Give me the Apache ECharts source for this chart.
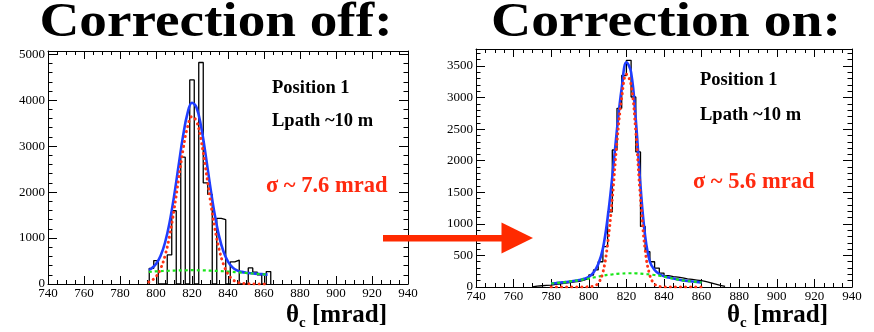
<!DOCTYPE html>
<html><head><meta charset="utf-8">
<script src="https://cdn.jsdelivr.net/npm/echarts@6/dist/echarts.min.js"></script>
<style>html,body{margin:0;padding:0;background:#fff}#c{width:874px;height:332px}</style>
</head><body><div id="c"></div>
<script>
// ---- data: correction off (left) ----
const offBinStart = 796.25;
const offBinWidth = 2.5;
const offCounts = [342,510,0,0,633,1594,0,2760,0,4440,0,4820,2200,1950,0,1430,1400,0,480,520,0,0,350,260,200,0,270];
const offFitX = [796,797.5,800,802.5,805,807.5,810,812.5,815,817.5,820,822.5,825,827.5,830,832.5,835,837.5,840,842.5,845,847.5,850,852.5,855,857.5,860,862];
const offTotal = [307,339,435,608,897,1327,1900,2563,3213,3713,3943,3842,3438,2831,2158,1539,1047,703,486,363,297,264,246,235,225,218,210,205];
const offSignal = [42,72,160,328,612,1039,1608,2268,2915,3414,3643,3543,3140,2536,1866,1251,765,426,216,100,42,16,6,2,0,0,0,0];
const offBkg = [265,267,275,280,285,288,292,295,298,299,300,299,298,295,292,288,282,277,270,263,255,248,240,233,225,218,210,205];
// ---- data: correction on (right) ----
const onBinStart = 770;
const onBinWidth = 2.5;
const onCounts = [15,20,25,30,40,50,60,70,80,90,110,135,190,270,400,640,1190,2170,2830,3350,3590,3010,2140,960,560,400,300,220,180,165,155,145,130,120,110,100,85,65,45,25,10];
const onFitX = [780,782.5,785,787.5,790,792.5,795,797.5,800,802.5,805,807.5,810,812.5,815,817.5,820,822.5,825,827.5,830,832.5,835,837.5,840,842.5,845,847.5,850,852.5,855,857.5,860];
const onTotal = [55,62,70,78,88,98,112,130,160,230,360,610,1090,1750,2500,3150,3560,3400,2650,1600,800,400,270,205,170,150,133,118,105,95,88,80,72];
const onSignal = [0,0,0,0,0,0,0,0,5,15,60,230,680,1400,2300,3000,3370,3200,2450,1400,580,180,45,10,0,0,0,0,0,0,0,0,0];
const onBkg = [55,62,70,78,88,98,110,122,135,150,165,180,192,200,208,213,217,218,217,212,205,198,190,180,165,148,132,118,105,95,88,80,72];
// ---- axis ----
const xMin = 740, xMax = 940, xStep = 20;
const offYMax = 5070, offYStep = 1000;
const onYMax = 3770, onYStep = 500;
const titleOff = 'Correction off:';
const titleOn = 'Correction on:';
const textPos = 'Position 1';
const textPath = 'Lpath ~10 m';
const sigmaOff = 'σ ~ 7.6 mrad';
const sigmaOn = 'σ ~ 5.6 mrad';

const SERIF = "'Liberation Serif','Times New Roman',serif";
function histData(start, w, counts){
  const d = [[start, 0]];
  counts.forEach((c,i)=>d.push([start + i*w, c]));
  d.push([start + counts.length*w, 0]);
  return d;
}
function zip(x,y){return x.map((v,i)=>[v,y[i]]);}

function xAx(grid, top){
  return {type:'value', gridIndex:grid, position: top?'top':'bottom', min:xMin, max:xMax, interval:xStep,
    axisLine:{show:true, onZero:false, lineStyle:{color:'#000', width:1}},
    axisTick:{show:true, inside:true, length:8, lineStyle:{color:'#000'}},
    minorTick:{show:true, splitNumber:4, length:4, lineStyle:{color:'#000'}},
    splitLine:{show:false},
    axisLabel:{show:!top, color:'#000', fontFamily:SERIF, fontSize:13, margin:3}};
}
function yAx(grid, right, max, step){
  return {type:'value', gridIndex:grid, position: right?'right':'left', min:0, max:max, interval:step,
    axisLine:{show:true, onZero:false, lineStyle:{color:'#000', width:1}},
    axisTick:{show:true, inside:true, length:9, lineStyle:{color:'#000'}},
    minorTick:{show:true, splitNumber:5, length:4.5, lineStyle:{color:'#000'}},
    splitLine:{show:false},
    axisLabel:{show:!right, color:'#000', fontFamily:SERIF, fontSize:13, margin:3,
      formatter:v=> (v % step === 0) ? String(v) : ''}};
}
function seriesSet(xi, yi, hs, hw, hc, fx, tot, sig, bkg){
  return [
    {type:'line', xAxisIndex:xi, yAxisIndex:yi, data:histData(hs,hw,hc), step:'end', symbol:'none',
     lineStyle:{color:'#000', width:1.3}, z:2, silent:true, animation:false},
    {type:'line', xAxisIndex:xi, yAxisIndex:yi, data:zip(fx,tot), smooth:0.4, symbol:'none',
     lineStyle:{color:'#1f3dff', width:2.6}, z:3, animation:false},
    {type:'line', xAxisIndex:xi, yAxisIndex:yi, data:zip(fx,bkg), smooth:0.4, symbol:'none',
     lineStyle:{color:'#19e619', width:2.2, type:[3,3]}, z:4, animation:false},
    {type:'line', xAxisIndex:xi, yAxisIndex:yi, data:zip(fx,sig), smooth:0.4, symbol:'none',
     lineStyle:{color:'#ff3214', width:3, type:[0.1,5], cap:'round'}, z:5, animation:false}
  ];
}
function txt(x,y,s,size,color,align,sx){
  return {type:'text', x:x, y:y, z:50, scaleX:sx||1, style:{text:s, x:0, y:0, fill:color||'#000',
    font:'bold '+size+'px '+SERIF, textAlign:align||'left', textVerticalAlign:'middle'}};
}
function axisTitle(xRight, y){
  return {type:'text', x:xRight, y:y, z:50, style:{
    rich:{a:{fontFamily:SERIF, fontWeight:'bold', fontSize:25, fill:'#000'},
          b:{fontFamily:SERIF, fontWeight:'bold', fontSize:15, fill:'#000', padding:[14,0,0,0]}},
    text:'{a|θ}{b|c}{a| [mrad]}', textAlign:'right', textVerticalAlign:'middle'}};
}

const chart = echarts.init(document.getElementById('c'), null, {renderer:'canvas'});
chart.setOption({
  animation:false,
  backgroundColor:'#fff',
  grid:[{left:48, top:51, width:360, height:233}, {left:476, top:49, width:376, height:238}],
  xAxis:[xAx(0,false), xAx(0,true), xAx(1,false), xAx(1,true)],
  yAxis:[yAx(0,false,offYMax,offYStep), yAx(0,true,offYMax,offYStep), yAx(1,false,onYMax,onYStep), yAx(1,true,onYMax,onYStep)],
  series:[].concat(
    seriesSet(0,0,offBinStart,offBinWidth,offCounts,offFitX,offTotal,offSignal,offBkg),
    seriesSet(2,2,onBinStart,onBinWidth,onCounts,onFitX,onTotal,onSignal,onBkg)),
  graphic:[
    txt(216,24,titleOff,48,'#000','center',1.15),
    txt(666,24,titleOn,48,'#000','center',1.16),
    txt(272,88,textPos,18.5),
    txt(272,121.5,textPath,18.5),
    txt(266,186,sigmaOff,22.5,'#ff2a0f'),
    txt(700,80,textPos,18.5),
    txt(700,115,textPath,18.5),
    txt(693,182,sigmaOn,22.5,'#ff2a0f'),
    axisTitle(387,316),
    axisTitle(828,316),
    {type:'rect', z:60, shape:{x:383, y:235, width:120, height:6.5}, style:{fill:'#ff2a00'}},
    {type:'polygon', z:60, shape:{points:[[501.5,222.5],[501.5,253.5],[533,238]]}, style:{fill:'#ff2a00'}}
  ]
});
</script></body></html>
